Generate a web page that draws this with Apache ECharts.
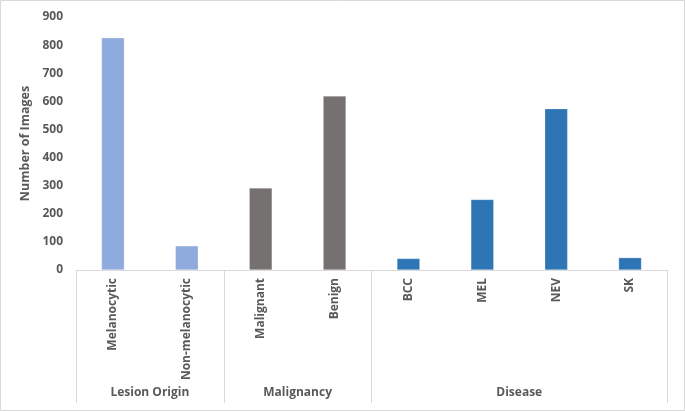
<!DOCTYPE html>
<html>
<head>
<meta charset="utf-8">
<script src="https://cdn.jsdelivr.net/npm/echarts@6/dist/echarts.min.js"></script>
<style>html,body{margin:0;padding:0;background:#fff}#c{width:685px;height:412px}</style>
</head>
<body>
<div id="c"></div>
<script>
const categories = ['Melanocytic', 'Non-melanocytic', 'Malignant', 'Benign', 'BCC', 'MEL', 'NEV', 'SK'];
const values = [826, 86, 292, 619, 41, 251, 574, 44];
const groupOf = [0, 0, 1, 1, 2, 2, 2, 2];
const groupNames = ['Lesion Origin', 'Malignancy', 'Disease'];
const groupColors = ['#8FAADC', '#767171', '#2E75B6'];
const yTicks = { min: 0, max: 900, interval: 100 };

const boundaries = [];
for (let i = 0; i <= categories.length; i++) boundaries.push(i);
const groupStart = [], groupEnd = [];
groupOf.forEach((g, i) => {
  if (groupStart[g] === undefined) groupStart[g] = i;
  groupEnd[g] = i + 1;
});
const sepSet = new Set([0, categories.length]);
groupStart.forEach(s => sepSet.add(s));
const labelAt = {};
groupNames.forEach((n, g) => { labelAt[(groupStart[g] + groupEnd[g]) / 2] = n; });
const groupAxisData = boundaries.map(b => labelAt[b] || '');

const font = '"Open Sans", "Noto Sans", sans-serif';
const txt = '#595959';
const lineC = '#D9D9D9';

const chart = echarts.init(document.getElementById('c'), null, { renderer: 'canvas' });
chart.setOption({
  animation: false,
  backgroundColor: '#fff',
  grid: { left: 76, right: 18, top: 17, bottom: 142 },
  graphic: [{
    type: 'rect', shape: { x: 0.5, y: 0.5, width: 684, height: 410 },
    style: { fill: 'none', stroke: lineC, lineWidth: 1 }, silent: true
  }],
  xAxis: [{
    type: 'category',
    data: categories,
    axisLine: { show: true, lineStyle: { color: lineC, width: 1 } },
    axisTick: { show: false },
    axisLabel: { rotate: 90, margin: 8, color: txt, fontFamily: font, fontWeight: 'bold', fontSize: 12, interval: 0 },
    splitLine: { show: false }
  }, {
    type: 'category',
    position: 'bottom',
    boundaryGap: false,
    data: groupAxisData,
    axisLine: { show: false },
    axisTick: {
      show: true, length: 133, lineStyle: { color: lineC, width: 1 },
      interval: (i) => sepSet.has(i)
    },
    axisLabel: {
      margin: 117, color: txt, fontFamily: font, fontWeight: 'bold', fontSize: 12,
      interval: (i, v) => v !== ''
    },
    splitLine: { show: false }
  }],
  yAxis: {
    type: 'value',
    min: yTicks.min, max: yTicks.max, interval: yTicks.interval,
    name: 'Number of Images',
    nameLocation: 'middle',
    nameGap: 34,
    nameTextStyle: { color: txt, fontFamily: font, fontWeight: 'bold', fontSize: 12.5 },
    axisLine: { show: false },
    axisTick: { show: false },
    splitLine: { show: false },
    axisLabel: { margin: 13, color: txt, fontFamily: font, fontWeight: 'bold', fontSize: 12 }
  },
  series: [{
    type: 'bar',
    xAxisIndex: 0,
    barWidth: '31%',
    data: values.map((v, i) => ({ value: v, itemStyle: { color: groupColors[groupOf[i]] } })),
    itemStyle: { borderColor: 'rgba(255,255,255,0.5)', borderWidth: 0.5 }
  }]
});
</script>
</body>
</html>
